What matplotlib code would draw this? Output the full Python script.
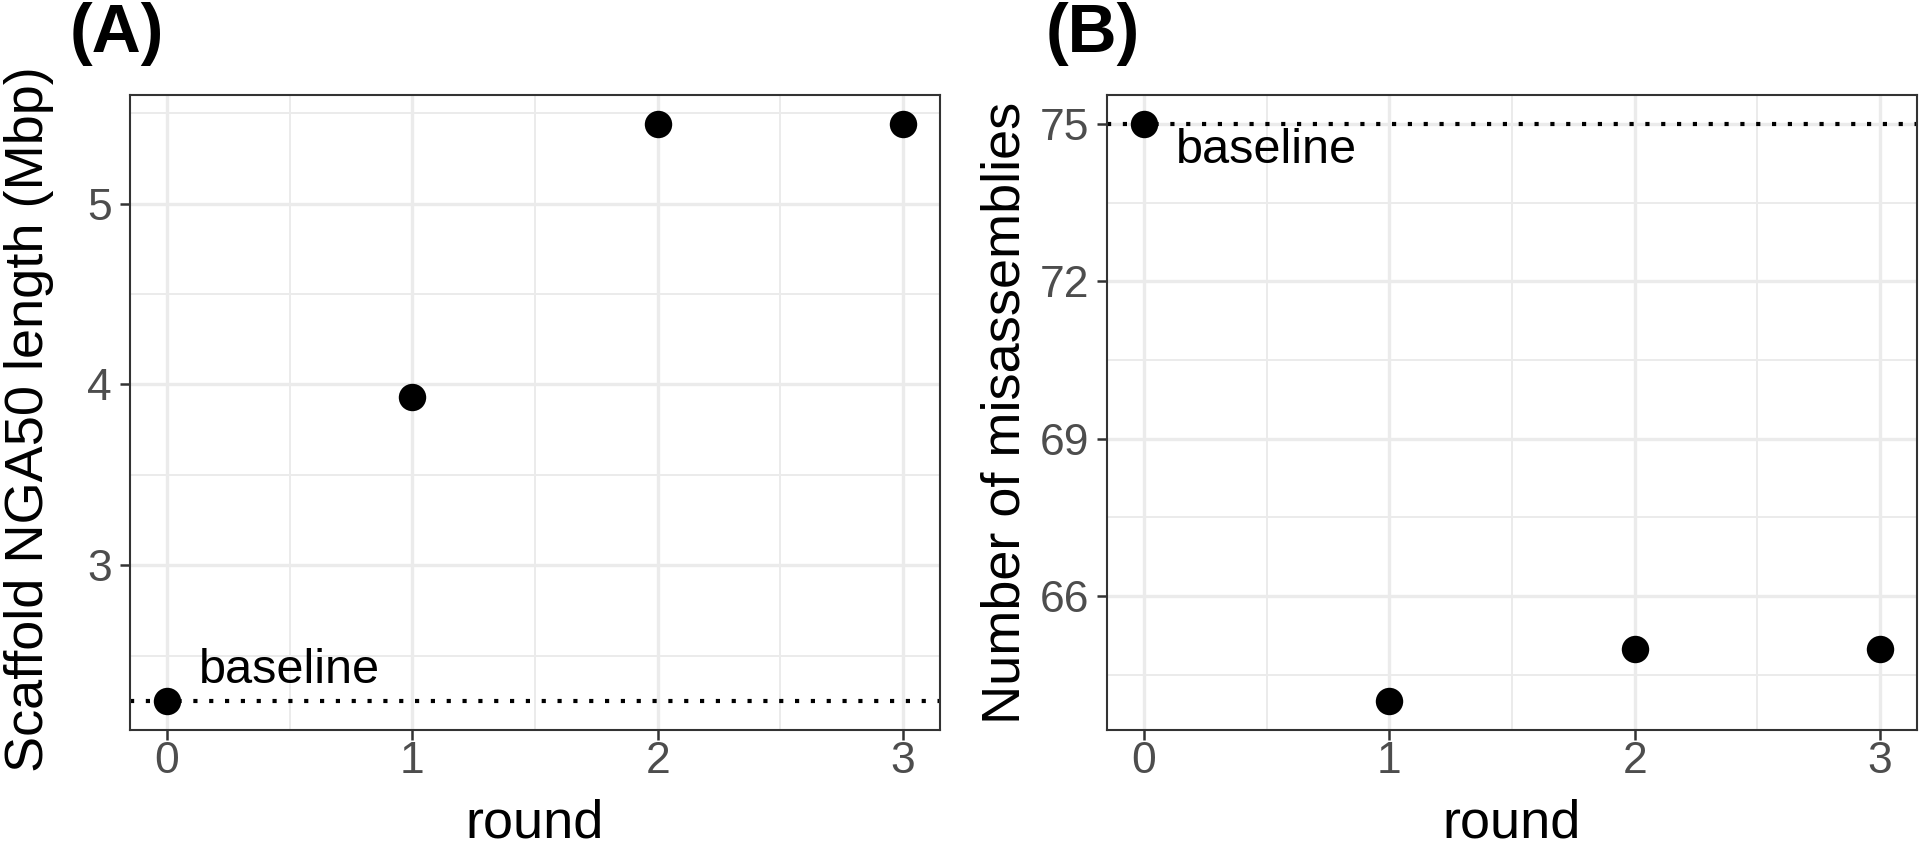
import matplotlib
matplotlib.use("Agg")
import matplotlib.pyplot as plt
from matplotlib.ticker import MultipleLocator

# ==========================================
# data
# ==========================================
rounds = [0, 1, 2, 3]
nga50_mbp = [2.25, 3.93, 5.44, 5.44]
nga50_baseline = 2.25
misassemblies = [75, 64, 65, 65]
mis_baseline = 75

plt.rcParams['font.family'] = ['Liberation Sans', 'DejaVu Sans']

GRID = '#EBEBEB'
FRAME = '#333333'
TICKTXT = '#4D4D4D'
W, H = 1920, 843

fig = plt.figure(figsize=(W / 100, H / 100), dpi=100)
# axes boxes in pixels: left, right, top, bottom
ax_a = fig.add_axes([130 / W, (H - 730) / H, 810 / W, 635 / H])
ax_b = fig.add_axes([1107 / W, (H - 730) / H, 810 / W, 635 / H])


def style_axes(ax, major, minor, ylim):
    ax.set_xlim(-0.15, 3.15)
    ax.set_ylim(*ylim)
    ax.set_xticks(rounds)
    ax.xaxis.set_minor_locator(MultipleLocator(0.5))
    ax.yaxis.set_major_locator(MultipleLocator(major))
    ax.yaxis.set_minor_locator(MultipleLocator(minor))
    ax.grid(True, which='major', color=GRID, linewidth=2.4, zorder=0)
    ax.grid(True, which='minor', color=GRID, linewidth=1.4, zorder=0)
    ax.set_axisbelow(True)
    for sp in ax.spines.values():
        sp.set_color(FRAME)
        sp.set_linewidth(1.5)
    ax.tick_params(which='major', length=7, width=1.8, color=FRAME,
                   labelsize=32, labelcolor=TICKTXT)
    ax.tick_params(axis='x', which='major', pad=1)
    ax.tick_params(axis='y', which='major', pad=6)
    ax.tick_params(which='minor', length=0)
    ax.set_xlabel('round', fontsize=39, va='baseline')
    ax.xaxis.set_label_coords(0.5, -(838 - 730) / 635)


# (A) scaffold NGA50
style_axes(ax_a, 1, 0.5, (2.09, 5.60))
ax_a.axhline(nga50_baseline, color='black', linestyle=(0, (1, 2.8)), linewidth=3.0, zorder=2)
ax_a.scatter(rounds, nga50_mbp, s=390, color='black', zorder=3, linewidths=0)
ax_a.annotate('baseline', (0.5, nga50_baseline), xytext=(0, 13), textcoords='offset points',
              ha='center', va='baseline', fontsize=35)
ax_a.set_ylabel('Scaffold NGA50 length (Mbp)', fontsize=39, va='baseline')
ax_a.yaxis.set_label_coords((43 - 130) / 810, 0.49)

# (B) misassemblies
style_axes(ax_b, 3, 1.5, (63.45, 75.55))
ax_b.axhline(mis_baseline, color='black', linestyle=(0, (1, 2.8)), linewidth=3.0, zorder=2)
ax_b.scatter(rounds, misassemblies, s=390, color='black', zorder=3, linewidths=0)
ax_b.annotate('baseline', (0.5, mis_baseline), xytext=(0, -28), textcoords='offset points',
              ha='center', va='baseline', fontsize=35)
ax_b.set_ylabel('Number of misassemblies', fontsize=39, va='baseline')
ax_b.yaxis.set_label_coords((1019 - 1107) / 810, 0.5)

fig.text(70 / W, 1 - 2 / H, '(A)', fontsize=49, fontweight='bold', ha='left', va='top')
fig.text(1046 / W, 1 - 2 / H, '(B)', fontsize=49, fontweight='bold', ha='left', va='top')

fig.savefig('out.png', dpi=100)
